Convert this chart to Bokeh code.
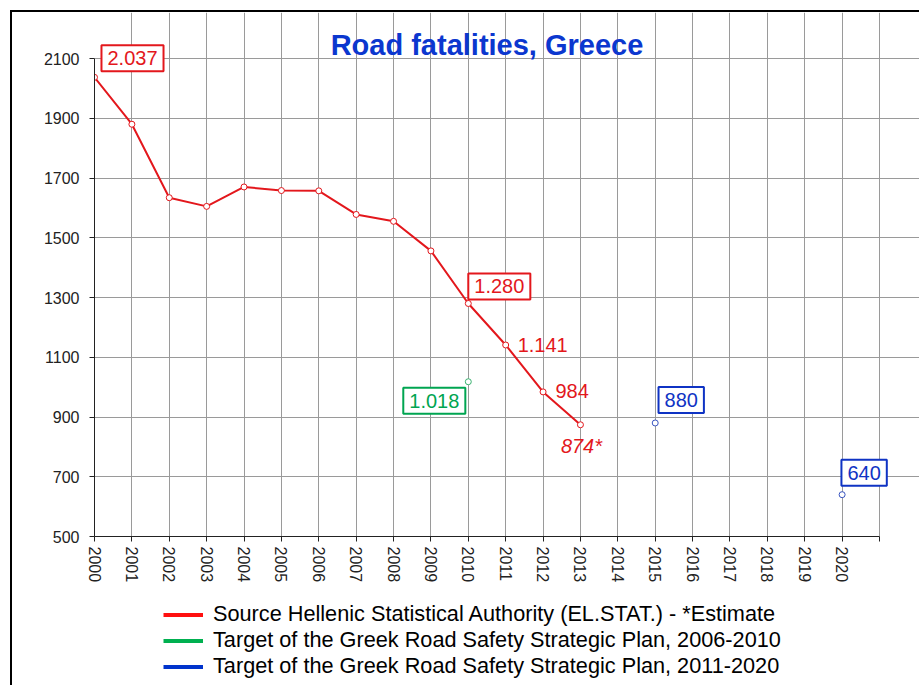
from bokeh.plotting import figure
from bokeh.layouts import column
from bokeh.models import Label, Legend, LegendItem, FixedTicker, Range1d
from bokeh.embed import file_html
from bokeh.resources import INLINE

# ---- data ----
years = [2000, 2001, 2002, 2003, 2004, 2005, 2006, 2007, 2008, 2009, 2010, 2011, 2012, 2013]
fatalities = [2037, 1880, 1634, 1605, 1670, 1658, 1657, 1578, 1555, 1456, 1280, 1141, 984, 874]
target_0610_years = [2010]
target_0610_values = [1018]
target_1120_years = [2015, 2020]
target_1120_values = [880, 640]
x_ticks = list(range(2000, 2022))
y_ticks = list(range(500, 2101, 200))
title_text = "Road fatalities, Greece"
series_names = [
    "Source Hellenic Statistical Authority (EL.STAT.) - *Estimate",
    "Target of the Greek Road Safety Strategic Plan, 2006-2010",
    "Target of the Greek Road Safety Strategic Plan, 2011-2020",
]

RED = "#E3171C"
GREEN = "#00A551"
BLUE = "#0F33C4"
FONT = "Liberation Sans"


def fmt(v):
    return f"{v:,}".replace(",", ".")


# layout constants (page pixels)
PAGE_W, PAGE_H = 921, 687
ORIGIN = 12                      # 10px margin + 2px border
AX_LEFT, AX_RIGHT, AX_TOP, AX_BOTTOM = 94, 879, 58, 536
FRAME_TOP = 12
SPLIT = 590

x0, x1 = x_ticks[0], x_ticks[-1]
y0, y1 = y_ticks[0], y_ticks[-1]
x_end = x0 + (x1 - x0) * (PAGE_W - AX_LEFT) / (AX_RIGHT - AX_LEFT)
y_end = y0 + (y1 - y0) * (AX_BOTTOM - FRAME_TOP) / (AX_BOTTOM - AX_TOP)

p = figure(width=PAGE_W - ORIGIN, height=SPLIT - ORIGIN, output_backend="svg", toolbar_location=None,
           x_range=Range1d(x0, x_end), y_range=Range1d(y0, y_end),
           min_border_left=AX_LEFT - ORIGIN, min_border_right=0, min_border_top=0,
           min_border_bottom=SPLIT - AX_BOTTOM)
p.styles = {"border-top": "2px solid #000", "border-left": "2px solid #000"}
p.background_fill_color = "white"
p.border_fill_color = "white"
p.outline_line_color = None

# axes
p.xaxis.ticker = FixedTicker(ticks=x_ticks)
p.xaxis.major_label_overrides = {x1: ""}
p.xaxis.major_label_orientation = "vertical"
p.xaxis.bounds = (x0, x1)
p.yaxis.ticker = FixedTicker(ticks=y_ticks)
p.yaxis.bounds = (y0, y1)
for ax in (p.xaxis, p.yaxis):
    ax.axis_line_color = "#222222"
    ax.major_tick_line_color = "#222222"
    ax.major_tick_out = 5
    ax.major_tick_in = 0
    ax.minor_tick_line_color = None
    ax.major_label_text_font = FONT
    ax.major_label_text_font_size = "16px"
    ax.major_label_text_color = "#222222"
p.xaxis.major_label_standoff = 5
p.yaxis.major_label_standoff = 10

p.xgrid.ticker = FixedTicker(ticks=x_ticks)
p.ygrid.ticker = FixedTicker(ticks=y_ticks)
p.xgrid.bounds = (y0, y1)
p.ygrid.bounds = (x0, x1)
p.grid.grid_line_color = "#9a9a9a"
p.grid.grid_line_width = 1

# title
p.add_layout(Label(x=(x0 + x1) / 2, y=y1, y_offset=14, text=title_text, text_align="center",
                   text_baseline="alphabetic", text_font=FONT, text_font_size="29px",
                   text_font_style="bold", text_color="#0B37CF"))

# series
p.line(years, fatalities, line_color=RED, line_width=2)
p.scatter(years, fatalities, size=6, marker="circle", line_color=RED, fill_color="white", line_width=1)
p.scatter(target_0610_years, target_0610_values, size=6, marker="circle", line_color="#3CB371",
          fill_color="white", line_width=1)
p.scatter(target_1120_years, target_1120_values, size=6, marker="circle", line_color="#3A55C0",
          fill_color="white", line_width=1)

# annotations: (x, y, text, dx, dy, color, boxed, italic)
ann = [
    (years[0], fatalities[0], fmt(fatalities[0]), 38, 19, RED, True, False),
    (years[10], fatalities[10], fmt(fatalities[10]), 31, 17, RED, True, False),
    (years[11], fatalities[11], fmt(fatalities[11]), 37, 0, RED, False, False),
    (years[12], fatalities[12], fmt(fatalities[12]), 29, 1, RED, False, False),
    (years[13], fatalities[13], fmt(fatalities[13]) + "*", 1, -21, RED, False, True),
    (target_0610_years[0], target_0610_values[0], fmt(target_0610_values[0]), -34, -19, GREEN, True, False),
    (target_1120_years[0], target_1120_values[0], fmt(target_1120_values[0]), 26, 23, BLUE, True, False),
    (target_1120_years[1], target_1120_values[1], fmt(target_1120_values[1]), 22, 22, BLUE, True, False),
]
for x, y, t, dx, dy, c, boxed, italic in ann:
    kw = dict(x=x, y=y, text=t, x_offset=dx, y_offset=dy, text_align="center", text_baseline="middle",
              text_font=FONT, text_font_size="20px", text_color=c,
              text_font_style="italic" if italic else "normal")
    if boxed:
        kw.update(border_line_color=c, border_line_width=2, background_fill_color="white", padding=6)
    p.add_layout(Label(**kw))

# ---- legend figure below the chart ----
q = figure(width=PAGE_W - ORIGIN, height=PAGE_H - SPLIT, output_backend="svg", toolbar_location=None,
           x_axis_type=None, y_axis_type=None, min_border=0)
q.styles = {"border-left": "2px solid #000"}
q.outline_line_color = None
q.grid.visible = False

# legend-only renderers (single-point lines draw nothing)
leg_r = q.multi_line(xs=[[years[0]]], ys=[[fatalities[0]]], line_color="#FF1010", line_width=4)
leg_g = q.multi_line(xs=[[target_0610_years[0]]], ys=[[target_0610_values[0]]], line_color="#00B050", line_width=4)
leg_b = q.multi_line(xs=[[target_1120_years[0]]], ys=[[target_1120_values[0]]], line_color="#0033CC", line_width=4)

legend = Legend(items=[LegendItem(label=series_names[0], renderers=[leg_r]),
                       LegendItem(label=series_names[1], renderers=[leg_g]),
                       LegendItem(label=series_names[2], renderers=[leg_b])],
                location=(163 - AX_LEFT, 6), orientation="vertical")
legend.label_text_font = FONT
legend.label_text_font_size = "21.7px"
legend.label_text_color = "#000000"
legend.label_height = 25
legend.glyph_height = 25
legend.glyph_width = 40
legend.label_standoff = 10
legend.spacing = 0
legend.padding = 0
legend.margin = 0
legend.border_line_color = None
legend.background_fill_alpha = 0
q.add_layout(legend, "center")

layout = column(p, q, spacing=0)
layout.margin = (10, 0, 0, 10)

open("out.html", "w").write(file_html(layout, INLINE))
